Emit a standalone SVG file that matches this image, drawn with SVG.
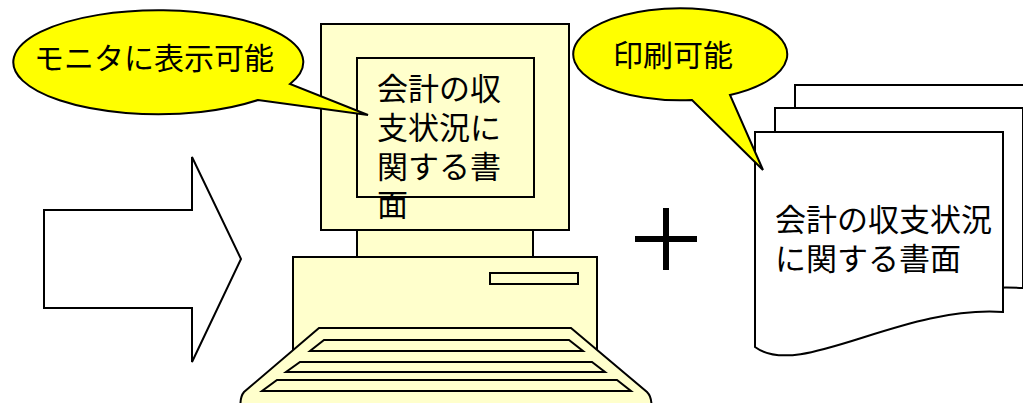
<svg xmlns="http://www.w3.org/2000/svg" width="1023" height="403" viewBox="0 0 1023 403">
  <defs>
    <style>
      .ln { stroke: #000; stroke-width: 2; stroke-linejoin: miter; }
      .pc { fill: #FFFFCC; }
      .paper { fill: #FFFFFF; }
      .bubble { fill: #FFFF00; stroke: #000; stroke-width: 2; }
      .txt { font-family: "Liberation Sans", "Noto Sans CJK JP", sans-serif; fill: #000; }
      .t30 { font-size: 30px; }
      .t31 { font-size: 31px; }
    </style>
    <!-- single sheet with a wavy lower edge -->
    <path id="sheet" d="M0,0 H248 V180 C145,173 45,233 0,215 Z"/>
  </defs>
  <rect width="1023" height="403" fill="#FFFFFF"/>

  <!-- block arrow on the left -->
  <g id="arrow">
    <polygon class="ln" fill="#FFFFFF" points="44,210 192,210 192,157 241,259 192,362 192,308 44,308"/>
  </g>

  <!-- personal computer -->
  <g id="computer">
    <rect class="ln pc" x="357" y="225" width="176" height="34"/>
    <rect class="ln pc" x="293" y="257" width="304" height="100"/>
    <rect class="ln pc" x="490" y="273" width="88" height="11"/>
    <path class="ln pc" d="M319,328 H571 L647,392 Q653,398 651,412 H241 Q239,398 244,392 Z"/>
    <polygon class="ln pc" points="324,340 569,340 583,351 310,351"/>
    <polygon class="ln pc" points="300,362 592,362 605,372 286,372"/>
    <polygon class="ln pc" points="277,380 617,380 631,391 262,391"/>
    <rect class="ln pc" x="321" y="24" width="248" height="206"/>
    <rect class="ln pc" x="357" y="58" width="177" height="139"/>
    <text class="txt t31"><tspan x="377" y="100">会計の収</tspan><tspan x="377" y="139">支状況に</tspan><tspan x="377" y="178">関する書</tspan><tspan x="377" y="216">面</tspan></text>
  </g>

  <!-- plus sign -->
  <g id="plus">
    <rect x="663" y="208" width="6" height="62" fill="#000"/>
    <rect x="635" y="236" width="62" height="6" fill="#000"/>
  </g>

  <!-- stack of printed sheets -->
  <g id="documents">
    <use href="#sheet" class="ln paper" x="795" y="85"/>
    <use href="#sheet" class="ln paper" x="775" y="108"/>
    <path class="ln paper" d="M755,132 H1003 V312 C900,305 800,380 755,347 Z"/>
    <text class="txt t31"><tspan x="775" y="231">会計の収支状況</tspan><tspan x="775" y="270">に関する書面</tspan></text>
  </g>

  <!-- speech bubble: display -->
  <g id="callout-monitor">
    <path class="bubble" d="M258,100 A145,52 0 1 1 290,84 L368,115 Z"/>
    <text class="txt t30" x="154" y="69" text-anchor="middle">モニタに表示可能</text>
  </g>

  <!-- speech bubble: print -->
  <g id="callout-print">
    <path class="bubble" d="M692,100 A107,46 0 1 1 730,95 L763,170 Z"/>
    <text class="txt t30" x="673" y="66" text-anchor="middle">印刷可能</text>
  </g>
</svg>
